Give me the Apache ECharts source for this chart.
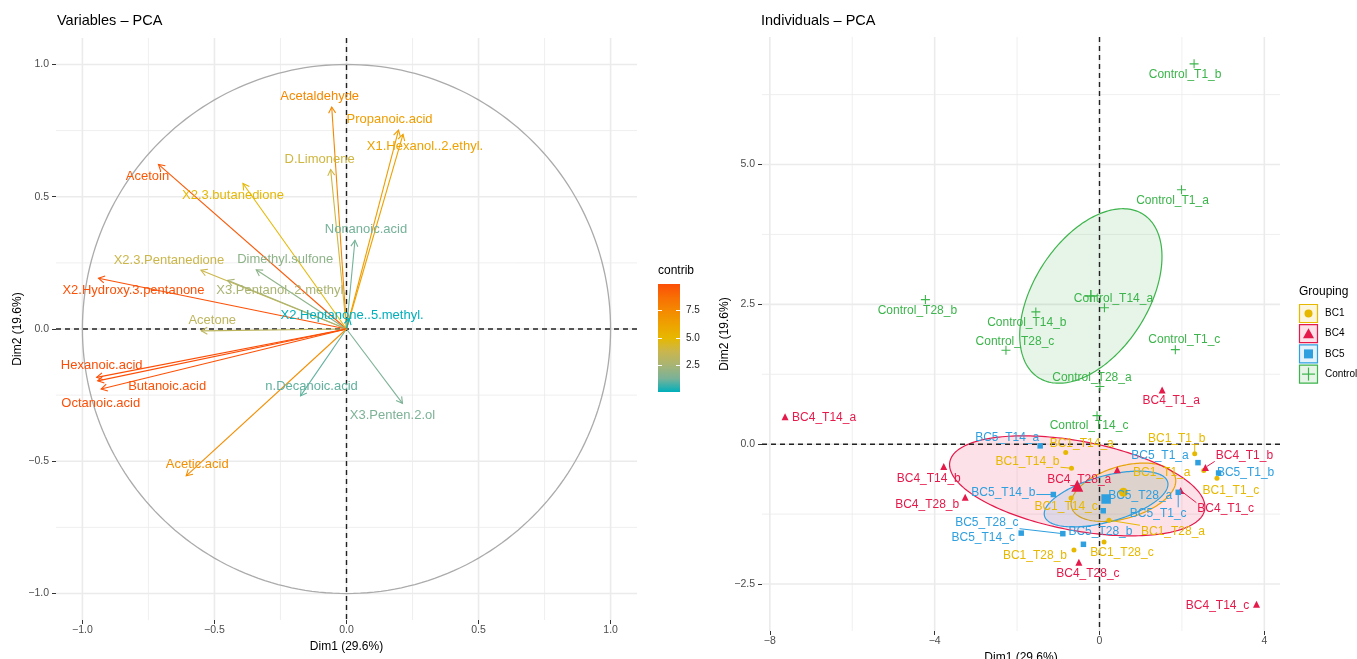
<!DOCTYPE html>
<html>
<head>
<meta charset="utf-8">
<script src="https://cdn.jsdelivr.net/npm/echarts@6/dist/echarts.min.js"></script>
<style>
html, body { margin: 0; padding: 0; background: #fff; }
#chart { width: 1357px; height: 659px; }
</style>
</head>
<body>
<div id="chart"></div>
<script>
// ---------- Variables: coordinates on Dim1 / Dim2 and contribution ----------
const varNames = ['Acetaldehyde', 'Propanoic.acid', 'X1.Hexanol..2.ethyl.', 'D.Limonene', 'Acetoin',
  'X2.3.butanedione', 'Nonanoic.acid', 'X2.3.Pentanedione', 'Dimethyl.sulfone', 'X3.Pentanol..2.methyl.',
  'X2.Hydroxy.3.pentanone', 'X2.Heptanone..5.methyl.', 'Acetone', 'Hexanoic.acid', 'Butanoic.acid',
  'Octanoic.acid', 'n.Decanoic.acid', 'X3.Penten.2.ol', 'Acetic.acid'];
const varDim1 = [-0.056, 0.197, 0.214, -0.060, -0.712, -0.392, 0.032, -0.551, -0.342, -0.450,
  -0.939, 0.010, -0.550, -0.946, -0.929, -0.942, -0.174, 0.212, -0.607];
const varDim2 = [0.839, 0.752, 0.736, 0.603, 0.622, 0.550, 0.335, 0.222, 0.224, 0.184,
  0.192, 0.040, -0.007, -0.183, -0.227, -0.196, -0.253, -0.281, -0.555];
const varContrib = [7.56, 6.46, 6.28, 3.93, 9.56, 4.88, 1.21, 3.78, 1.79, 2.53,
  9.83, 0.02, 3.24, 9.93, 9.78, 9.90, 1.01, 1.33, 7.24];
const contribTicks = [2.5, 5.0, 7.5];

// ---------- Individuals: coordinates on Dim1 / Dim2 by group ----------
const bc1Names = ['BC1_T1_a', 'BC1_T1_b', 'BC1_T1_c', 'BC1_T14_a', 'BC1_T14_b', 'BC1_T14_c', 'BC1_T28_a', 'BC1_T28_b', 'BC1_T28_c'];
const bc1Dim1 = [2.53, 2.31, 2.85, -0.82, -0.68, -0.69, 0.23, -0.62, 0.11];
const bc1Dim2 = [-0.47, -0.17, -0.61, -0.15, -0.43, -0.96, -1.36, -1.89, -1.75];

const bc4Names = ['BC4_T1_a', 'BC4_T1_b', 'BC4_T1_c', 'BC4_T14_a', 'BC4_T14_b', 'BC4_T14_c', 'BC4_T28_a', 'BC4_T28_b', 'BC4_T28_c'];
const bc4Dim1 = [1.52, 2.57, 1.97, -7.63, -3.78, 3.81, 0.43, -3.26, -0.50];
const bc4Dim2 = [0.97, -0.415, -0.83, 0.49, -0.40, -2.86, -0.456, -0.95, -2.11];

const bc5Names = ['BC5_T1_a', 'BC5_T1_b', 'BC5_T1_c', 'BC5_T14_a', 'BC5_T14_b', 'BC5_T14_c', 'BC5_T28_a', 'BC5_T28_b', 'BC5_T28_c'];
const bc5Dim1 = [2.39, 2.89, 1.91, -1.44, -1.12, -1.90, 0.09, -0.39, -0.89];
const bc5Dim2 = [-0.33, -0.515, -0.86, -0.03, -0.90, -1.59, -1.19, -1.79, -1.60];

const ctlNames = ['Control_T1_a', 'Control_T1_b', 'Control_T1_c', 'Control_T14_a', 'Control_T14_b', 'Control_T14_c', 'Control_T28_a', 'Control_T28_b', 'Control_T28_c'];
const ctlDim1 = [1.99, 2.295, 1.84, 0.12, -1.545, -0.06, 0.01, -4.225, -2.27];
const ctlDim2 = [4.55, 6.80, 1.69, 2.44, 2.365, 0.51, 1.03, 2.585, 1.68];

// group centres and confidence-ellipse covariance (Dim1/Dim2 units)
const groupNames = ['BC1', 'BC4', 'BC5', 'Control'];
const meanDim1 = [0.58, -0.54, 0.16, -0.21];
const meanDim2 = [-0.86, -0.745, -0.98, 2.65];
const ellVar1 = [1.616, 9.6, 2.254, 2.98];
const ellVar2 = [0.273, 0.80, 0.249, 2.433];
const ellCov12 = [0.261, -1.17, 0.396, 1.213];

// axis ticks
const varTicks = [-1, -0.5, 0, 0.5, 1];
const varMinor = [-0.75, -0.25, 0.25, 0.75];
const indXTicks = [-8, -4, 0, 4];
const indXMinor = [-6, -2, 2];
const indYTicks = [-2.5, 0, 2.5, 5];
const indYMinor = [-1.25, 1.25, 3.75, 6.25];

// ---------- styling / label layout ----------
const FONT = '"Liberation Sans", Arial, Helvetica, sans-serif';
const GRID_COL = '#EBEBEB';
const groupColors = ['#E7B800', '#E6194B', '#2E9FDF', '#3CB44B'];
const PLUS = 'path://M0,4.4H4.4V0H5.6V4.4H10V5.6H5.6V10H4.4V5.6H0Z';
const groupSymbols = ['circle', 'triangle', 'rect', PLUS];
const groupSizes = [5, 7, 5.5, 9];
const meanSizes = [9, 12, 9.5, 12];
const keySymSizes = [8, 11, 9, 13];
// cyan -> gold -> orange ramp, sampled in Lab space
const contribRamp = ['#00AFBB', '#7AB298', '#A8B474', '#CAB64D', '#E7B800', '#EEA200', '#F48A01', '#F86F04', '#FC4E07'];

const varLabelNudge = {
  'Acetaldehyde': [-12, -11], 'Propanoic.acid': [-9, -11], 'X1.Hexanol..2.ethyl.': [22, 12],
  'D.Limonene': [-11, -10], 'Acetoin': [-11, 12], 'X2.3.butanedione': [-10, 12], 'Nonanoic.acid': [11, -11],
  'X2.3.Pentanedione': [-32, -10], 'Dimethyl.sulfone': [29, -10], 'X3.Pentanol..2.methyl.': [54, 10],
  'X2.Hydroxy.3.pentanone': [35, 12], 'X2.Heptanone..5.methyl.': [3, -3], 'Acetone': [11, -10],
  'Hexanoic.acid': [5, -12], 'Butanoic.acid': [66, -3], 'Octanoic.acid': [3, 23],
  'n.Decanoic.acid': [11, -10], 'X3.Penten.2.ol': [-10, 12], 'Acetic.acid': [11, -11]
};
const indLabelNudge = {
  'BC1_T1_a': [-42, 2], 'BC1_T1_b': [-18, -15], 'BC1_T1_c': [14, 12], 'BC1_T14_a': [16, -9],
  'BC1_T14_b': [-44, -7], 'BC1_T14_c': [-5, 9], 'BC1_T28_a': [64, 11], 'BC1_T28_b': [-39, 6], 'BC1_T28_c': [18, 11],
  'BC4_T1_a': [9, 11], 'BC4_T1_b': [39, -12], 'BC4_T1_c': [45, 18], 'BC4_T14_a': [39, 1], 'BC4_T14_b': [-15, 12],
  'BC4_T14_c': [-39, 2], 'BC4_T28_a': [-38, 10], 'BC4_T28_b': [-38, 7], 'BC4_T28_c': [9, 11],
  'BC5_T1_a': [-38, -7], 'BC5_T1_b': [27, 0], 'BC5_T1_c': [-20, 21], 'BC5_T14_a': [-33, -8], 'BC5_T14_b': [-50, -2],
  'BC5_T14_c': [-38, 5], 'BC5_T28_a': [37, -15], 'BC5_T28_b': [17, -13], 'BC5_T28_c': [-76, -11],
  'Control_T1_a': [-9, 10.5], 'Control_T1_b': [-9, 10.5], 'Control_T1_c': [9, -10], 'Control_T14_a': [9, -9],
  'Control_T14_b': [-9, 11], 'Control_T14_c': [-8, 10], 'Control_T28_a': [-8, -9], 'Control_T28_b': [-8, 11],
  'Control_T28_c': [9, -9]
};
const leaderLabels = new Set(['BC1_T1_b', 'BC1_T14_b', 'BC1_T28_a', 'BC4_T1_b', 'BC4_T1_c', 'BC5_T1_c', 'BC5_T14_b', 'BC5_T28_c']);

const measureCtx = document.createElement('canvas').getContext('2d');
measureCtx.font = '12px ' + FONT;
const textWidth = s => measureCtx.measureText(s).width;

function rgba(hex, a) {
  const n = parseInt(hex.slice(1), 16);
  return `rgba(${(n >> 16) & 255},${(n >> 8) & 255},${n & 255},${a})`;
}
const clamp = (v, lo, hi) => Math.max(lo, Math.min(hi, v));
const minusFmt = d => v => (d === null ? String(v) : Number(v).toFixed(d)).replace('-', '\u2212');

// ---------- helpers building series ----------
function gridLines(gi, values, orient, width, color, dash, z) {
  return {
    type: 'custom', xAxisIndex: gi, yAxisIndex: gi, z: z, silent: true,
    data: values.map(v => orient === 'v' ? [v, 0] : [0, v]),
    renderItem: (params, api) => {
      const cs = params.coordSys;
      let shape;
      if (orient === 'v') {
        const x = api.coord([api.value(0), 0])[0];
        shape = { x1: x, y1: cs.y, x2: x, y2: cs.y + cs.height };
      } else {
        const y = api.coord([0, api.value(1)])[1];
        shape = { x1: cs.x, y1: y, x2: cs.x + cs.width, y2: y };
      }
      return { type: 'line', shape, style: { stroke: color, lineWidth: width, lineDash: dash || null } };
    }
  };
}

function axis(gi, min, max, ticks, fmt, name, nameGap, margin) {
  return {
    type: 'value', gridIndex: gi, min, max, name, nameLocation: 'middle', nameGap,
    nameTextStyle: { fontSize: 12, color: '#000', fontFamily: FONT },
    axisLine: { show: false, onZero: false },
    splitLine: { show: false },
    axisTick: { show: true, length: 4, customValues: ticks, lineStyle: { color: '#333', width: 1 } },
    axisLabel: { customValues: ticks, formatter: fmt, color: '#4D4D4D', fontSize: 10.5, fontFamily: FONT, margin }
  };
}

const series = [];

// left panel: grid, circle, zero lines, arrows, labels
series.push(gridLines(0, varMinor, 'v', 0.8, GRID_COL, null, 1));
series.push(gridLines(0, varMinor, 'h', 0.8, GRID_COL, null, 1));
series.push(gridLines(0, varTicks, 'v', 1.6, GRID_COL, null, 1));
series.push(gridLines(0, varTicks, 'h', 1.6, GRID_COL, null, 1));
series.push({
  type: 'custom', xAxisIndex: 0, yAxisIndex: 0, z: 2, silent: true,
  data: [[0, 0, 1]],
  renderItem: (params, api) => {
    const r = api.value(2), pts = [];
    for (let k = 0; k <= 240; k++) {
      const t = (k / 240) * Math.PI * 2;
      pts.push(api.coord([r * Math.cos(t), r * Math.sin(t)]));
    }
    return { type: 'polyline', shape: { points: pts }, style: { stroke: '#ABABAB', lineWidth: 1.3, fill: null } };
  }
});
series.push(gridLines(0, [0], 'v', 1.4, '#222', [5, 4], 3));
series.push(gridLines(0, [0], 'h', 1.4, '#222', [5, 4], 3));

const varData = varNames.map((n, i) => [varDim1[i], varDim2[i], varContrib[i], i]);
const arrowSeriesIndex = series.length;
series.push({
  type: 'custom', xAxisIndex: 0, yAxisIndex: 0, z: 4, silent: true,
  data: varData,
  renderItem: (params, api) => {
    const o = api.coord([0, 0]);
    const p = api.coord([api.value(0), api.value(1)]);
    const col = api.visual('color');
    const ang = Math.atan2(p[1] - o[1], p[0] - o[0]);
    const L = 7, a = Math.PI / 6;
    const h1 = [p[0] - L * Math.cos(ang - a), p[1] - L * Math.sin(ang - a)];
    const h2 = [p[0] - L * Math.cos(ang + a), p[1] - L * Math.sin(ang + a)];
    return {
      type: 'group', children: [
        { type: 'line', shape: { x1: o[0], y1: o[1], x2: p[0], y2: p[1] }, style: { stroke: col, lineWidth: 1.1 } },
        { type: 'polyline', shape: { points: [h1, p, h2] }, style: { stroke: col, lineWidth: 1.1, fill: null } }
      ]
    };
  }
});
const varLabelSeriesIndex = series.length;
series.push({
  type: 'custom', xAxisIndex: 0, yAxisIndex: 0, z: 5, silent: true,
  data: varData,
  renderItem: (params, api) => {
    const p = api.coord([api.value(0), api.value(1)]);
    const name = varNames[api.value(3)];
    const nd = varLabelNudge[name] || [0, -10];
    return {
      type: 'text',
      style: { text: name, x: p[0] + nd[0], y: p[1] + nd[1], align: 'center', verticalAlign: 'middle',
        fill: api.visual('color'), font: '13px ' + FONT }
    };
  }
});

// right panel: grid, ellipses, zero lines, points, labels
series.push(gridLines(1, indXMinor, 'v', 0.8, GRID_COL, null, 1));
series.push(gridLines(1, indYMinor, 'h', 0.8, GRID_COL, null, 1));
series.push(gridLines(1, indXTicks, 'v', 1.6, GRID_COL, null, 1));
series.push(gridLines(1, indYTicks, 'h', 1.6, GRID_COL, null, 1));

series.push({
  type: 'custom', xAxisIndex: 1, yAxisIndex: 1, z: 2, silent: true,
  data: groupNames.map((g, i) => [meanDim1[i], meanDim2[i], ellVar1[i], ellVar2[i], ellCov12[i], i]),
  renderItem: (params, api) => {
    const cx = api.value(0), cy = api.value(1);
    const l11 = Math.sqrt(api.value(2));
    const l21 = api.value(4) / l11;
    const l22 = Math.sqrt(api.value(3) - l21 * l21);
    const col = groupColors[api.value(5)];
    const pts = [];
    for (let k = 0; k < 200; k++) {
      const t = (k / 200) * Math.PI * 2;
      pts.push(api.coord([cx + l11 * Math.cos(t), cy + l21 * Math.cos(t) + l22 * Math.sin(t)]));
    }
    return { type: 'polygon', shape: { points: pts }, style: { fill: rgba(col, 0.13), stroke: col, lineWidth: 1.2 } };
  }
});
series.push(gridLines(1, [0], 'v', 1.4, '#222', [5, 4], 3));
series.push(gridLines(1, [0], 'h', 1.4, '#222', [5, 4], 3));

const groups = [
  [bc1Names, bc1Dim1, bc1Dim2],
  [bc4Names, bc4Dim1, bc4Dim2],
  [bc5Names, bc5Dim1, bc5Dim2],
  [ctlNames, ctlDim1, ctlDim2]
];
groups.forEach(([names, d1, d2], gi) => {
  const col = groupColors[gi];
  series.push({
    type: 'scatter', name: groupNames[gi], xAxisIndex: 1, yAxisIndex: 1, z: 4, silent: true,
    symbol: groupSymbols[gi], symbolSize: groupSizes[gi],
    itemStyle: { color: col, opacity: 1 },
    data: names.map((n, i) => [d1[i], d2[i]])
  });
  series.push({
    type: 'scatter', xAxisIndex: 1, yAxisIndex: 1, z: 4, silent: true,
    symbol: groupSymbols[gi], symbolSize: meanSizes[gi],
    itemStyle: { color: col, opacity: 1 },
    data: [[meanDim1[gi], meanDim2[gi]]]
  });
  series.push({
    type: 'custom', xAxisIndex: 1, yAxisIndex: 1, z: 6, silent: true,
    data: names.map((n, i) => [d1[i], d2[i], i]),
    renderItem: (params, api) => {
      const name = names[api.value(2)];
      const p = api.coord([api.value(0), api.value(1)]);
      const nd = indLabelNudge[name] || [0, -10];
      const cx = p[0] + nd[0], cy = p[1] + nd[1];
      const children = [];
      if (leaderLabels.has(name)) {
        const hw = textWidth(name) / 2 + 1, hh = 6;
        const ex = clamp(p[0], cx - hw, cx + hw), ey = clamp(p[1], cy - hh, cy + hh);
        const dx = ex - p[0], dy = ey - p[1], len = Math.hypot(dx, dy) || 1;
        children.push({ type: 'line', shape: { x1: p[0] + dx / len * 2, y1: p[1] + dy / len * 2, x2: ex, y2: ey },
          style: { stroke: col, lineWidth: 1 } });
      }
      children.push({ type: 'text', style: { text: name, x: cx, y: cy, align: 'center', verticalAlign: 'middle',
        fill: col, font: '12px ' + FONT } });
      return { type: 'group', children };
    }
  });
});

// ---------- legends ----------
const cMin = Math.min(...varContrib), cMax = Math.max(...varContrib);
const bar = { x: 658, y: 284, w: 22, h: 108 };
const graphics = [
  { type: 'text', style: { text: 'contrib', x: 658, y: 271, verticalAlign: 'middle', fill: '#000', font: '12px ' + FONT } },
  { type: 'rect', shape: { x: bar.x, y: bar.y, width: bar.w, height: bar.h },
    style: { fill: new echarts.graphic.LinearGradient(0, 0, 0, 1,
      contribRamp.slice().reverse().map((c, k) => ({ offset: k / (contribRamp.length - 1), color: c }))) } }
];
contribTicks.forEach(v => {
  const y = Math.round(bar.y + (cMax - v) / (cMax - cMin) * bar.h) + 0.5;
  graphics.push({ type: 'line', shape: { x1: bar.x, y1: y, x2: bar.x + 4, y2: y }, style: { stroke: '#fff', lineWidth: 1 } });
  graphics.push({ type: 'line', shape: { x1: bar.x + bar.w - 4, y1: y, x2: bar.x + bar.w, y2: y }, style: { stroke: '#fff', lineWidth: 1 } });
  graphics.push({ type: 'text', style: { text: v.toFixed(1), x: bar.x + bar.w + 6, y: y, verticalAlign: 'middle',
    fill: '#222', font: '10px ' + FONT } });
});

graphics.push({ type: 'text', style: { text: 'Grouping', x: 1299, y: 292, verticalAlign: 'middle', fill: '#000', font: '12px ' + FONT } });
groupNames.forEach((g, i) => {
  const y0 = 304 + i * 20.2;
  const col = groupColors[i];
  const cx = 1308.5, cy = y0 + 9.5, s = keySymSizes[i];
  graphics.push({ type: 'rect', shape: { x: 1299.5, y: y0 + 0.5, width: 18, height: 18 },
    style: { fill: rgba(col, 0.13), stroke: col, lineWidth: 1.2 } });
  if (i === 0) graphics.push({ type: 'circle', shape: { cx, cy, r: s / 2 }, style: { fill: col } });
  else if (i === 1) graphics.push({ type: 'polygon', shape: { points: [[cx, cy - s / 2], [cx + s / 2, cy + s / 2 - 1], [cx - s / 2, cy + s / 2 - 1]] }, style: { fill: col } });
  else if (i === 2) graphics.push({ type: 'rect', shape: { x: cx - s / 2, y: cy - s / 2, width: s, height: s }, style: { fill: col } });
  else {
    graphics.push({ type: 'line', shape: { x1: cx - s / 2, y1: cy, x2: cx + s / 2, y2: cy }, style: { stroke: col, lineWidth: 1.2 } });
    graphics.push({ type: 'line', shape: { x1: cx, y1: cy - s / 2, x2: cx, y2: cy + s / 2 }, style: { stroke: col, lineWidth: 1.2 } });
  }
  graphics.push({ type: 'text', style: { text: g, x: 1325, y: cy, verticalAlign: 'middle', fill: '#000', font: '10px ' + FONT } });
});

const option = {
  animation: false,
  backgroundColor: '#fff',
  title: [
    { text: 'Variables \u2013 PCA', left: 57, top: 13, padding: 0,
      textStyle: { fontSize: 14.5, fontWeight: 'normal', color: '#000', fontFamily: FONT } },
    { text: 'Individuals \u2013 PCA', left: 761, top: 13, padding: 0,
      textStyle: { fontSize: 14.5, fontWeight: 'normal', color: '#000', fontFamily: FONT } }
  ],
  grid: [
    { left: 56, top: 38, width: 581, height: 582, containLabel: false, outerBoundsMode: 'none' },
    { left: 762, top: 37, width: 518, height: 594, containLabel: false, outerBoundsMode: 'none' }
  ],
  xAxis: [
    axis(0, -1.1, 1.1, varTicks, minusFmt(1), 'Dim1 (29.6%)', 16, 5),
    axis(1, -8.19, 4.38, indXTicks, minusFmt(null), 'Dim1 (29.6%)', 15, 5)
  ],
  yAxis: [
    axis(0, -1.1, 1.1, varTicks, minusFmt(1), 'Dim2 (19.6%)', 32, 7),
    axis(1, -3.34, 7.28, indYTicks, minusFmt(1), 'Dim2 (19.6%)', 30, 7)
  ],
  visualMap: {
    type: 'continuous', show: false, min: cMin, max: cMax, dimension: 2,
    seriesIndex: [arrowSeriesIndex, varLabelSeriesIndex],
    inRange: { color: contribRamp }
  },
  graphic: graphics,
  series: series
};

const chart = echarts.init(document.getElementById('chart'));
chart.setOption(option);
</script>
</body>
</html>
